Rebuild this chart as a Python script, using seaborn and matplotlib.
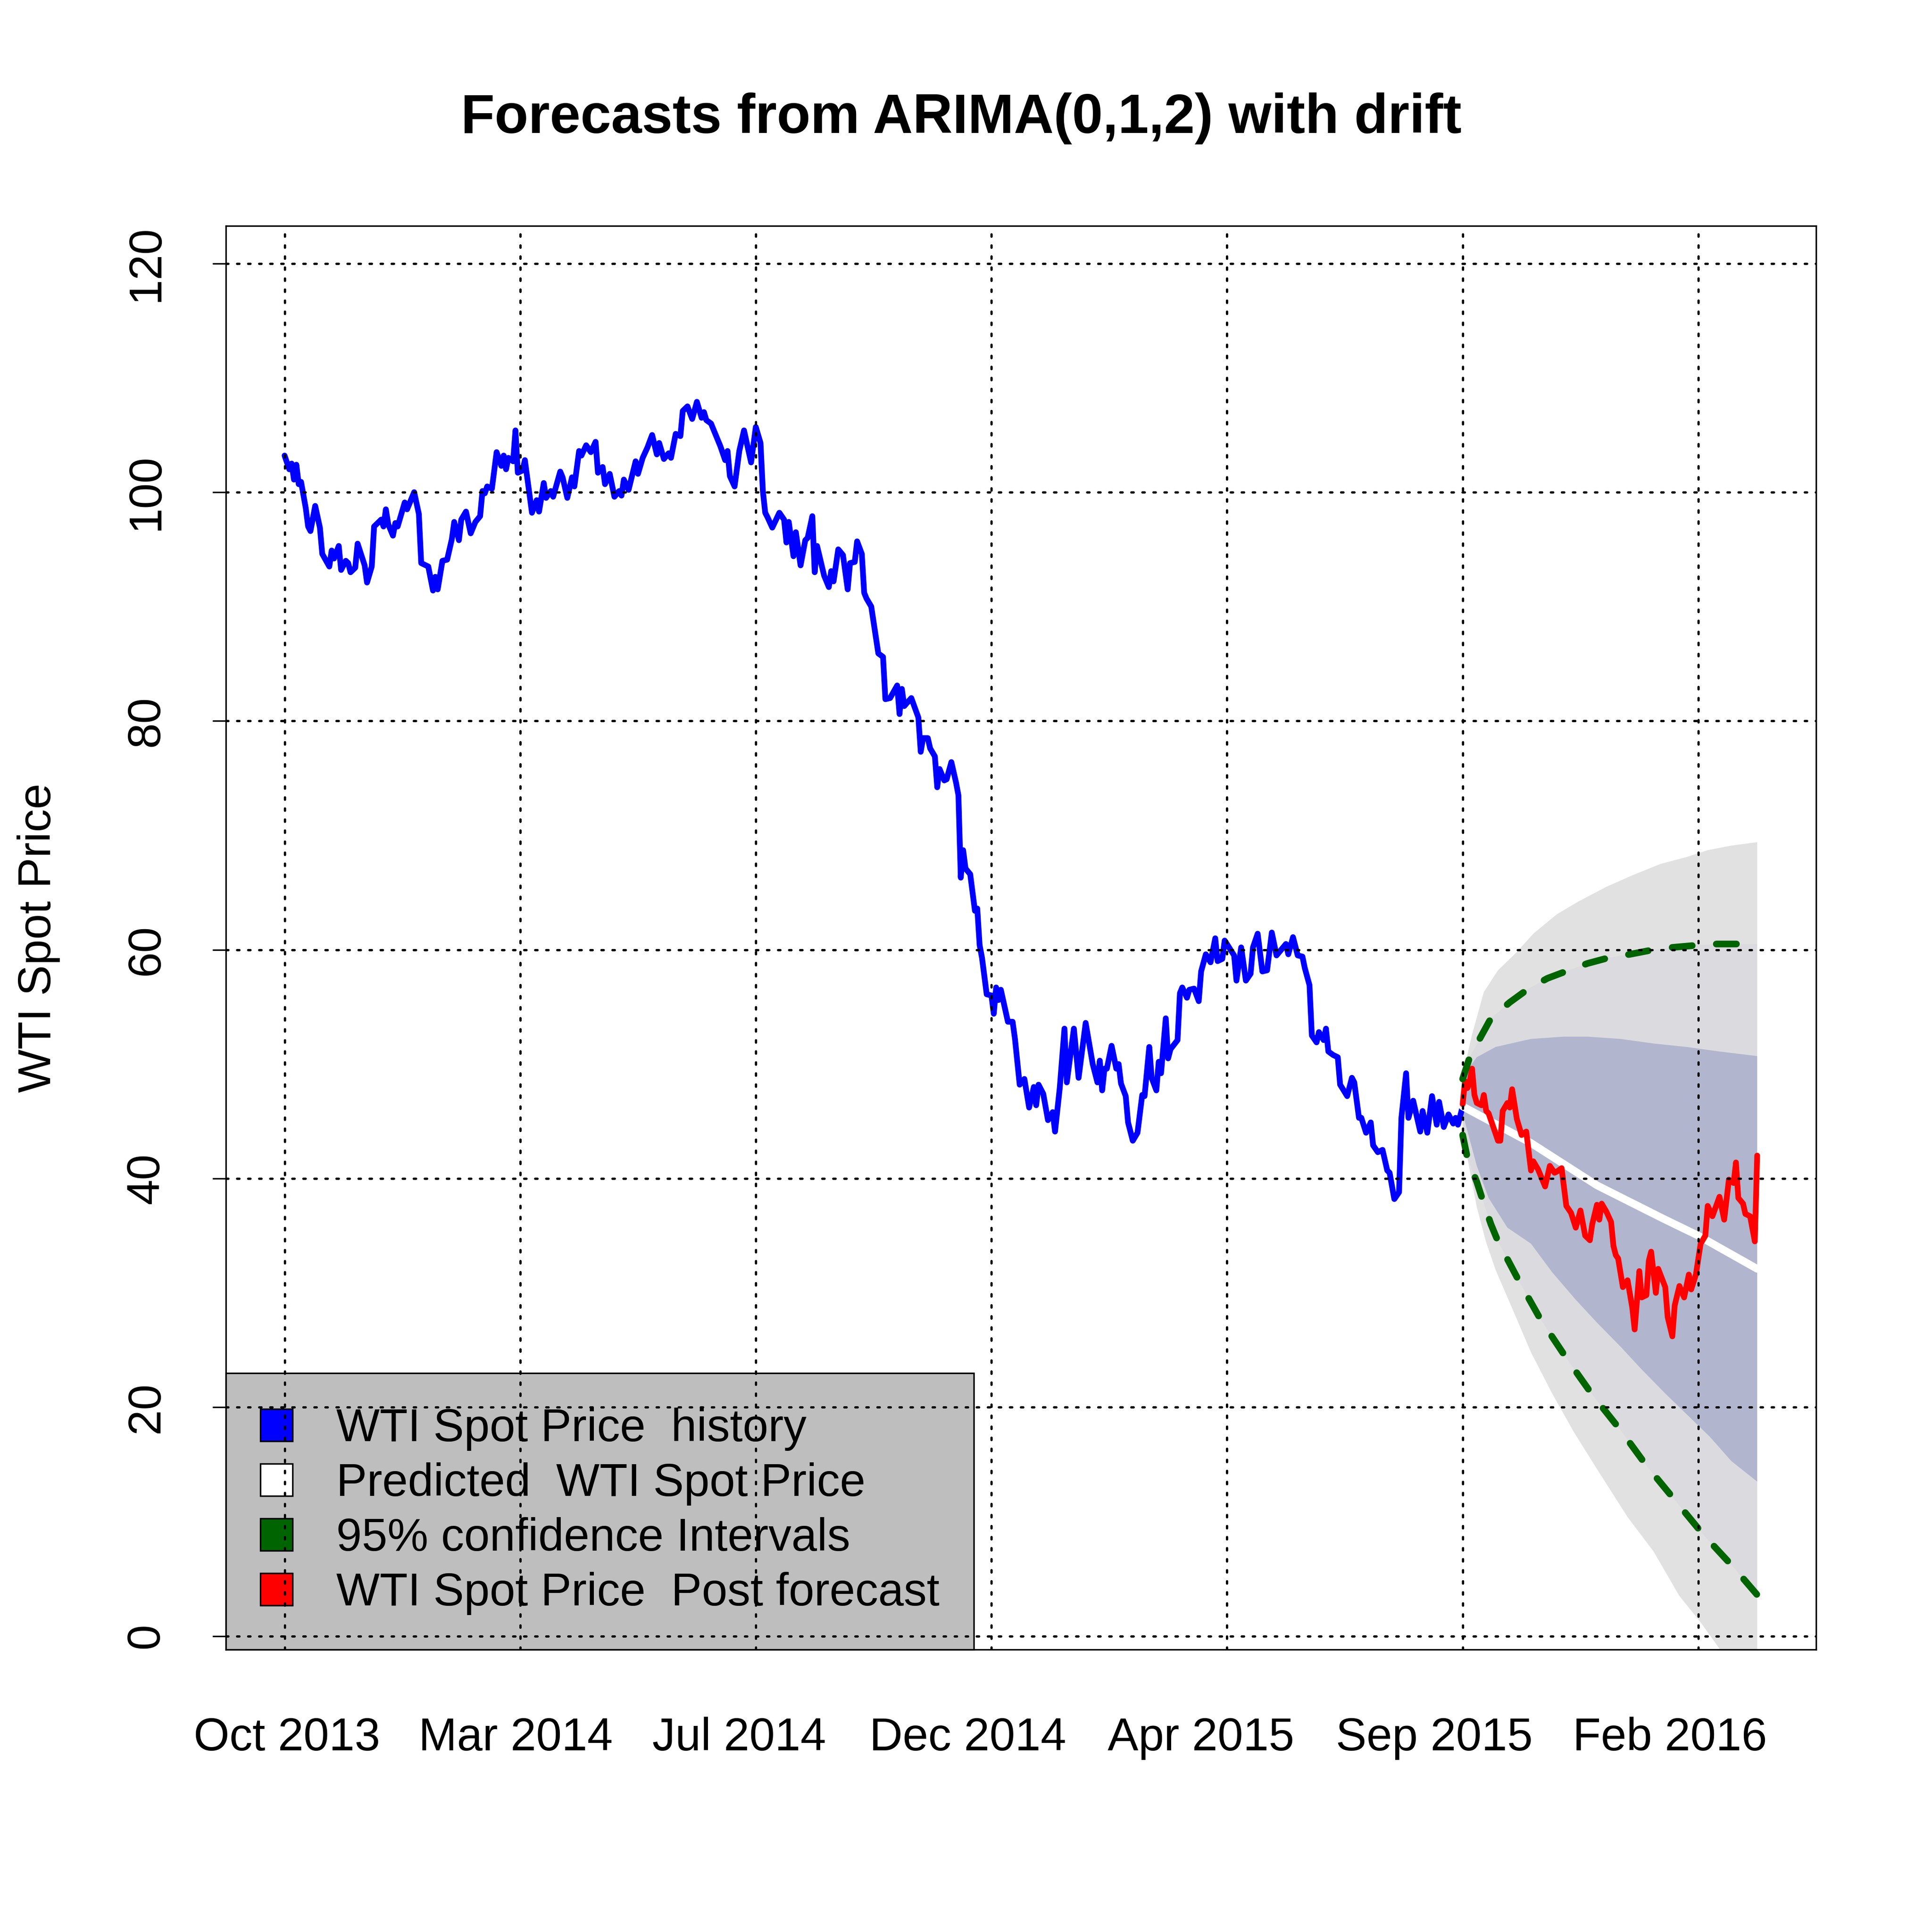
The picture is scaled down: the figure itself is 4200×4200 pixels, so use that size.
import matplotlib
matplotlib.use("Agg")
import matplotlib.pyplot as plt
from matplotlib.patches import Patch
import seaborn as sns

# --- values (x = trading-day index, y = USD) ---

# WTI spot price history (index 1 .. 501)
hist_idx = [1, 3, 4, 5, 6, 7, 8, 10, 11, 12, 14, 16, 17, 20, 21, 22, 24, 25, 27, 28,
            29, 31, 32, 35, 36, 38, 39, 42, 43, 44, 45, 47, 48, 49, 52, 53, 56, 58, 59, 62,
            64, 65, 66, 68, 70, 72, 73, 75, 76, 78, 80, 82, 84, 85, 86, 87, 89, 91, 93, 94,
            95, 96, 98, 99, 100, 102, 103, 106, 108, 109, 111, 112, 114, 115, 118, 119, 121, 123, 124, 126,
            127, 129, 131, 133, 134, 136, 137, 139, 141, 143, 144, 145, 147, 150, 151, 153, 155, 157, 159, 160,
            162, 164, 165, 167, 169, 170, 172, 174, 176, 178, 179, 180, 182, 184, 186, 188, 189, 190, 192, 194,
            196, 199, 201, 203, 204, 205, 206, 208, 211, 213, 214, 215, 217, 218, 220, 222, 223, 225, 226, 227,
            230, 232, 233, 234, 236, 238, 240, 241, 243, 244, 246, 247, 248, 250, 253, 255, 256, 258, 261, 262,
            263, 264, 267, 270, 271, 272, 274, 275, 277, 278, 279, 281, 282, 284, 286, 287, 288, 289, 290, 292,
            294, 295, 296, 297, 299, 301, 302, 303, 304, 305, 308, 310, 311, 313, 315, 317, 319, 320, 321, 323,
            325, 327, 328, 330, 332, 333, 336, 338, 341, 344, 346, 347, 348, 349, 350, 352, 354, 355, 356, 358,
            359, 361, 363, 365, 366, 368, 369, 371, 372, 373, 375, 376, 377, 380, 381, 382, 384, 385, 387, 389,
            390, 392, 394, 396, 397, 399, 400, 404, 405, 407, 409, 411, 412, 414, 416, 418, 420, 422, 424, 426,
            427, 429, 431, 433, 434, 436, 437, 439, 440, 442, 443, 444, 446, 448, 449, 452, 454, 455, 457, 458,
            460, 462, 463, 465, 467, 469, 470, 472, 474, 475, 477, 478, 480, 481, 483, 484, 486, 488, 490, 491,
            493, 495, 497, 498, 499, 501]
hist_val = [103.2, 102.0, 102.5, 101.1, 102.4, 100.7, 100.9, 98.6, 97.0, 96.6, 98.8, 96.9, 94.6, 93.5, 94.9, 94.2, 95.3, 93.2, 94.0, 93.8,
            93.0, 93.4, 95.5, 93.6, 92.1, 93.5, 97.0, 97.6, 97.0, 98.5, 97.2, 96.2, 97.3, 97.0, 99.1, 98.5, 100.0, 98.1, 93.8, 93.5,
            91.4, 92.6, 91.5, 94.0, 94.1, 95.9, 97.4, 95.8, 97.6, 98.3, 96.4, 97.4, 97.9, 100.1, 99.9, 100.5, 100.3, 103.5, 102.3, 103.2,
            102.0, 103.0, 102.7, 105.4, 101.7, 101.9, 102.8, 98.2, 99.3, 98.3, 100.8, 99.5, 100.1, 99.6, 101.8, 101.3, 99.5, 101.3, 100.5, 103.6,
            103.2, 104.1, 103.5, 104.4, 101.7, 102.2, 100.7, 101.6, 99.6, 100.1, 99.7, 101.1, 100.2, 102.7, 101.6, 103.0, 103.9, 105.0, 103.3, 104.3,
            102.9, 103.4, 103.0, 105.1, 104.9, 107.1, 107.5, 106.4, 107.9, 106.5, 107.0, 106.3, 106.0, 105.0, 104.0, 102.8, 103.6, 101.4, 100.5, 103.6,
            105.4, 102.6, 105.7, 104.3, 100.1, 98.2, 97.8, 96.9, 98.2, 97.6, 95.6, 97.4, 94.4, 96.5, 93.6, 95.8, 96.0, 97.9, 93.0, 95.3,
            92.7, 91.7, 93.1, 92.2, 95.0, 94.5, 91.5, 93.8, 93.9, 95.7, 94.6, 91.2, 90.7, 90.0, 85.9, 85.6, 81.9, 82.0, 83.1, 80.6,
            82.8, 81.3, 82.0, 80.3, 77.3, 78.5, 78.5, 77.6, 76.9, 74.2, 75.8, 74.8, 74.9, 76.4, 74.6, 73.5, 66.3, 68.7, 67.1, 66.6,
            63.4, 63.6, 60.4, 59.3, 56.1, 56.0, 54.4, 56.7, 55.6, 56.5, 53.7, 53.7, 52.2, 48.2, 48.7, 46.2, 48.0, 46.4, 48.2, 47.4,
            45.1, 45.8, 44.1, 47.9, 53.1, 48.4, 53.1, 48.8, 53.6, 50.0, 48.4, 50.3, 47.7, 49.6, 49.6, 51.6, 49.6, 50.0, 48.3, 47.2,
            44.9, 43.3, 44.0, 47.3, 47.2, 51.5, 48.8, 47.7, 50.2, 49.2, 54.0, 50.5, 51.3, 52.1, 56.2, 56.7, 55.8, 56.5, 56.6, 55.5,
            58.1, 59.6, 58.9, 61.0, 59.0, 59.2, 60.8, 59.5, 57.3, 60.2, 57.3, 57.9, 60.2, 61.4, 58.1, 58.2, 61.5, 59.5, 60.0, 60.5,
            59.6, 61.1, 59.5, 59.4, 58.4, 56.9, 52.5, 51.9, 52.8, 52.1, 53.1, 51.1, 50.8, 50.6, 48.2, 47.2, 48.8, 48.4, 45.3, 45.3,
            44.0, 44.9, 42.9, 42.3, 42.5, 40.7, 40.5, 38.2, 38.8, 45.3, 49.2, 45.3, 46.8, 45.9, 44.1, 45.9, 44.0, 47.2, 44.7, 46.7,
            44.5, 45.6, 44.8, 45.3, 44.7, 46.3]

# actual price after the forecast origin
post_idx = [501, 502, 503, 504, 505, 506, 507, 509, 510, 511, 512, 514, 516, 517, 518, 520, 521, 522, 524, 526,
            528, 530, 531, 533, 536, 538, 540, 541, 543, 545, 547, 549, 551, 553, 555, 556, 558, 559, 560, 562,
            564, 565, 566, 567, 569, 571, 573, 574, 576, 577, 579, 580, 581, 583, 584, 587, 588, 590, 591, 593,
            595, 597, 598, 600, 602, 604, 605, 607, 610, 612, 614, 616, 617, 618, 620, 621, 623, 625, 626]
post_val = [46.5, 48.5, 47.9, 48.5, 49.6, 47.3, 46.6, 46.4, 47.3, 45.9, 45.7, 44.5, 43.3, 43.3, 45.9, 46.6, 46.2, 47.8, 45.2, 43.8,
            44.1, 40.7, 41.5, 40.8, 39.3, 41.1, 40.5, 40.6, 40.9, 37.6, 37.0, 35.7, 37.2, 35.0, 34.6, 36.0, 37.7, 36.4, 37.8, 37.1,
            36.2, 34.1, 33.3, 33.0, 30.5, 31.1, 28.7, 26.8, 31.9, 29.6, 29.8, 32.8, 33.6, 30.0, 32.1, 30.5, 27.9, 26.2, 28.9, 30.6,
            29.6, 31.6, 30.3, 31.6, 34.3, 35.0, 37.6, 36.7, 38.4, 36.4, 39.9, 39.6, 41.4, 38.3, 37.8, 36.9, 36.7, 34.5, 42.0]

# point forecast
fc_idx = [501, 530, 558, 586, 601, 626]
fc_val = [46.3, 43.1, 39.4, 36.5, 35.0, 32.1]

# outer (lightest) band
outer_hi_idx = [501, 502, 505, 510, 516, 524, 531, 541, 550, 562, 573, 585, 596, 605, 615, 626]
outer_hi_val = [47.5, 49.9, 52.6, 56.3, 58.2, 59.8, 61.4, 63.1, 64.2, 65.5, 66.5, 67.5, 68.1, 68.7, 69.1, 69.4]
outer_lo_idx = [501, 503, 507, 511, 515, 524, 530, 539, 548, 558, 571, 582, 593, 602, 611, 626]
outer_lo_val = [45.5, 41.8, 37.5, 34.4, 32.0, 27.7, 24.8, 21.2, 17.9, 14.6, 10.4, 7.4, 3.5, 1.2, -1.4, -5.0]

# 80% band
lvl80_hi_idx = [501, 502, 507, 515, 530, 544, 554, 568, 582, 596, 610, 626]
lvl80_hi_val = [48.5, 49.2, 50.6, 51.5, 52.2, 52.4, 52.4, 52.2, 51.8, 51.5, 51.1, 50.7]
lvl80_lo_idx = [501, 504, 507, 512, 520, 530, 539, 549, 558, 568, 577, 587, 596, 606, 615, 626]
lvl80_lo_val = [45.7, 43.4, 41.1, 38.3, 35.7, 34.3, 31.8, 29.4, 27.4, 25.3, 23.3, 21.2, 19.4, 17.4, 15.3, 13.5]

# 95% confidence intervals (green dashed)
ci95_hi_idx = [501, 504, 509, 513, 521, 529, 537, 546, 554, 563, 572, 582, 590, 601, 609, 626]
ci95_hi_val = [48.7, 50.6, 52.5, 54.0, 55.4, 56.6, 57.5, 58.2, 58.8, 59.3, 59.6, 60.0, 60.2, 60.4, 60.5, 60.5]
ci95_lo_idx = [501, 503, 507, 510, 513, 516, 525, 534, 545, 556, 568, 579, 591, 603, 616, 626]
ci95_lo_val = [43.8, 41.8, 39.7, 37.8, 36.0, 34.5, 31.0, 27.7, 24.3, 21.1, 18.0, 14.9, 11.9, 8.9, 6.0, 3.6]

# axis labelling
x_tick_pos = [2, 99, 194, 291, 390, 489, 589]
x_tick_labels = ["Oct 2013", "Mar 2014", "Jul 2014", "Dec 2014", "Apr 2015", "Sep 2015", "Feb 2016"]
x_grid = [1, 101, 201, 301, 401, 501, 601]
y_ticks = [0, 20, 40, 60, 80, 100, 120]

sns.set_style("white")
plt.rcParams["font.family"] = ["Liberation Sans", "DejaVu Sans"]
plt.rcParams["text.color"] = "black"
plt.rcParams["axes.labelcolor"] = "black"
plt.rcParams["xtick.color"] = "black"
plt.rcParams["ytick.color"] = "black"

fig = plt.figure(figsize=(14, 14), dpi=300)
ax = fig.add_axes([0.1168, 0.1461, 0.8232, 0.7371])

# forecast shading
ax.fill(outer_hi_idx + outer_lo_idx[::-1], outer_hi_val + outer_lo_val[::-1],
        color="#E1E1E1", lw=0, zorder=1)
ax.fill(ci95_hi_idx + ci95_lo_idx[::-1], ci95_hi_val + ci95_lo_val[::-1],
        color="#DBDBDF", lw=0, zorder=1.1)
ax.fill(lvl80_hi_idx + lvl80_lo_idx[::-1], lvl80_hi_val + lvl80_lo_val[::-1],
        color="#B1B5CE", lw=0, zorder=1.2)

# lines
sns.lineplot(x=hist_idx, y=hist_val, color="blue", lw=3.0, sort=False, estimator=None, ax=ax, zorder=3)
sns.lineplot(x=fc_idx, y=fc_val, color="white", lw=4.0, sort=False, estimator=None, ax=ax, zorder=3)
sns.lineplot(x=post_idx, y=post_val, color="red", lw=3.0, sort=False, estimator=None, ax=ax, zorder=3.5)
for xs, ys in [(ci95_hi_idx, ci95_hi_val), (ci95_lo_idx, ci95_lo_val)]:
    sns.lineplot(x=xs, y=ys, color="#006400", lw=3.5, linestyle=(0, (3.0, 3.6)),
                 dash_capstyle="round", sort=False, estimator=None, ax=ax, zorder=4)

ax.set_xlim(-24, 651)
ax.set_ylim(-1.2, 123.3)

# dotted grid drawn on top of everything (like abline after the legend)
for gx in x_grid:
    ax.axvline(gx, color="black", lw=1.2, linestyle=(0, (1, 3.8)), dash_capstyle="round", zorder=10)
for gy in y_ticks:
    ax.axhline(gy, color="black", lw=1.2, linestyle=(0, (1, 3.8)), dash_capstyle="round", zorder=10)

ax.set_xticks(x_tick_pos)
ax.set_xticklabels(x_tick_labels)
ax.set_yticks(y_ticks)
ax.set_yticklabels([str(v) for v in y_ticks], rotation=90, va="center")
ax.tick_params(axis="x", length=0, pad=35, labelsize=24)
ax.tick_params(axis="y", length=7, width=0.8, pad=23, labelsize=24, left=True)
for s in ax.spines.values():
    s.set_color("black")
    s.set_linewidth(0.8)

ax.set_ylabel("WTI Spot Price", fontsize=24)
ax.yaxis.set_label_coords(-0.104, 0.5)
fig.text(0.4975, 0.9387, "Forecasts from ARIMA(0,1,2) with drift", ha="center", va="center",
         fontsize=28.8, fontweight="bold")

handles = [Patch(facecolor=c, edgecolor="black", lw=0.8)
           for c in ["blue", "white", "#006400", "red"]]
labels = ["WTI Spot Price  history", "Predicted  WTI Spot Price",
          "95% confidence Intervals", "WTI Spot Price  Post forecast"]
leg = ax.legend(handles, labels, loc="lower left", bbox_to_anchor=(0, 0), borderaxespad=0,
                fontsize=24, frameon=True, fancybox=False, framealpha=1,
                facecolor="#BEBEBE", edgecolor="black", handlelength=0.7, handleheight=0.7,
                handletextpad=0.95, labelspacing=0.25, borderpad=0.75)
leg.get_frame().set_linewidth(0.8)

plt.savefig("out.png", dpi=300)
plt.close()
